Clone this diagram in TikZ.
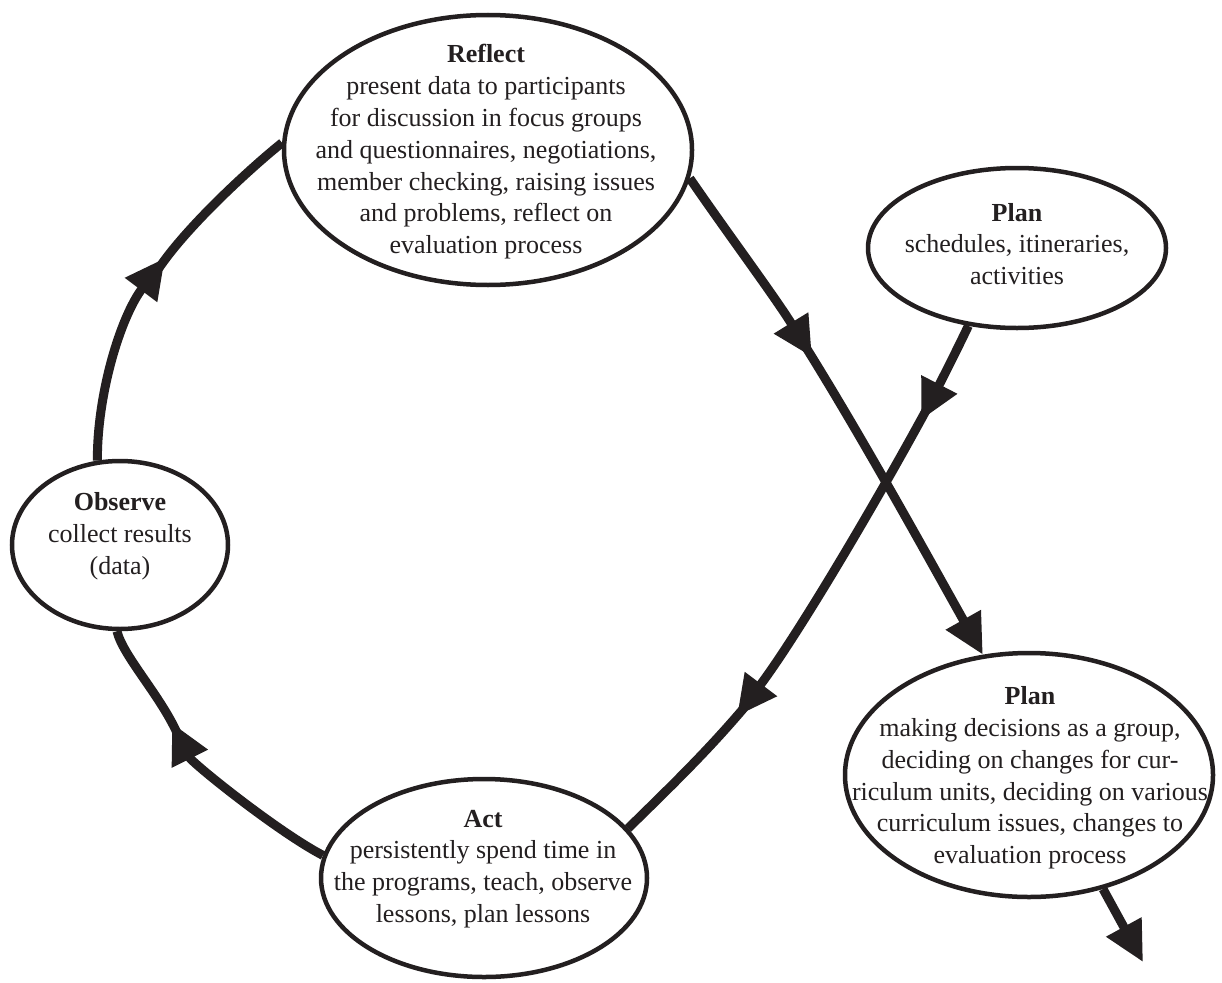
\documentclass[tikz,border=0pt]{standalone}
\usepackage{fontspec}
\setmainfont{Liberation Serif}
\usetikzlibrary{shapes.geometric,arrows.meta}
\definecolor{ink}{HTML}{231F20}
\begin{document}
\begin{tikzpicture}[x=1pt,y=-1pt,
  bubble/.style={draw=ink, ellipse, line width=4.5pt, inner sep=0pt, fill=white},
  txt/.style={align=center, font=\fontsize{26}{31.8}\selectfont, inner sep=0pt, text=ink},
  link/.style={line width=9pt, draw=ink},
  tipped/.style={-{Triangle[length=40pt,width=38pt]}}
]
\useasboundingbox[fill=white] (0,0) rectangle (1222,982);

% ellipses
\node[bubble, minimum width=408pt, minimum height=270pt] (reflect) at (488,150) {};
\node[bubble, minimum width=298pt, minimum height=160pt] (plantop) at (1017,248) {};
\node[bubble, minimum width=216pt, minimum height=168pt] (observe) at (120,545) {};
\node[bubble, minimum width=326pt, minimum height=198pt] (act) at (484,878) {};
\node[bubble, minimum width=368pt, minimum height=244pt] (planb) at (1029,775) {};

% texts
\node[txt] (reflecttext) at (486,152) {\textbf{Reflect}\\present data to participants\\for discussion in focus groups\\and questionnaires, negotiations,\\member checking, raising issues\\and problems, reflect on\\evaluation process};
\node[txt] (plantoptext) at (1017,244) {\textbf{Plan}\\schedules, itineraries,\\activities};
\node[txt] (observetext) at (120,536) {\textbf{Observe}\\collect results\\(data)};
\node[txt] (acttext) at (483,869) {\textbf{Act}\\persistently spend time in\\the programs, teach, observe\\lessons, plan lessons};
\node[txt] (planbtext) at (1030,778) {\textbf{Plan}\\making decisions as a group,\\deciding on changes for cur-\\riculum units, deciding on various\\curriculum issues, changes to\\evaluation process};

% arrow tip coordinates (t) and points just behind them (s) where the line resumes
\coordinate (t1) at (812,357);   \coordinate (s1) at (805.6,346.8);
\coordinate (t3) at (921,420);   \coordinate (s3) at (926.6,409.4);
\coordinate (t4) at (737,716);   \coordinate (s4) at (744.8,706.9);
\coordinate (t5) at (172,723);   \coordinate (s5) at (177.4,733.7);
\coordinate (t6) at (165,258);   \coordinate (s6) at (158.8,268.3);
\coordinate (out) at (1143,962);

% Reflect -> Plan (bottom)
\draw[link, tipped] (reflect.-8) .. controls (728,234) and (775,297) .. (t1);
\draw[link, tipped] (s1) .. controls (865,442) and (933,566) .. (planb.111);

% Plan (top) -> Act
\draw[link, tipped] (plantop.-122) .. controls (954,356) and (937,389) .. (t3);
\draw[link, tipped] (s3) .. controls (873,508) and (797,636) .. (t4);
\draw[link] (s4) .. controls (705,754) and (665,792) .. (act.19);

% Act -> Observe
\draw[link, tipped] (act.172) .. controls (278,832) and (192,763) .. (t5);
\draw[link] (s5) .. controls (160,695) and (123,656) .. (observe.-92);

% Observe -> Reflect
\draw[link, tipped] (observe.105) .. controls (97,395) and (120,318) .. (t6);
\draw[link] (s6) .. controls (188,225) and (253,166) .. (reflect.178);

% Plan (bottom) -> out
\draw[link, tipped] (planb.-57) -- (out);
\end{tikzpicture}
\end{document}
